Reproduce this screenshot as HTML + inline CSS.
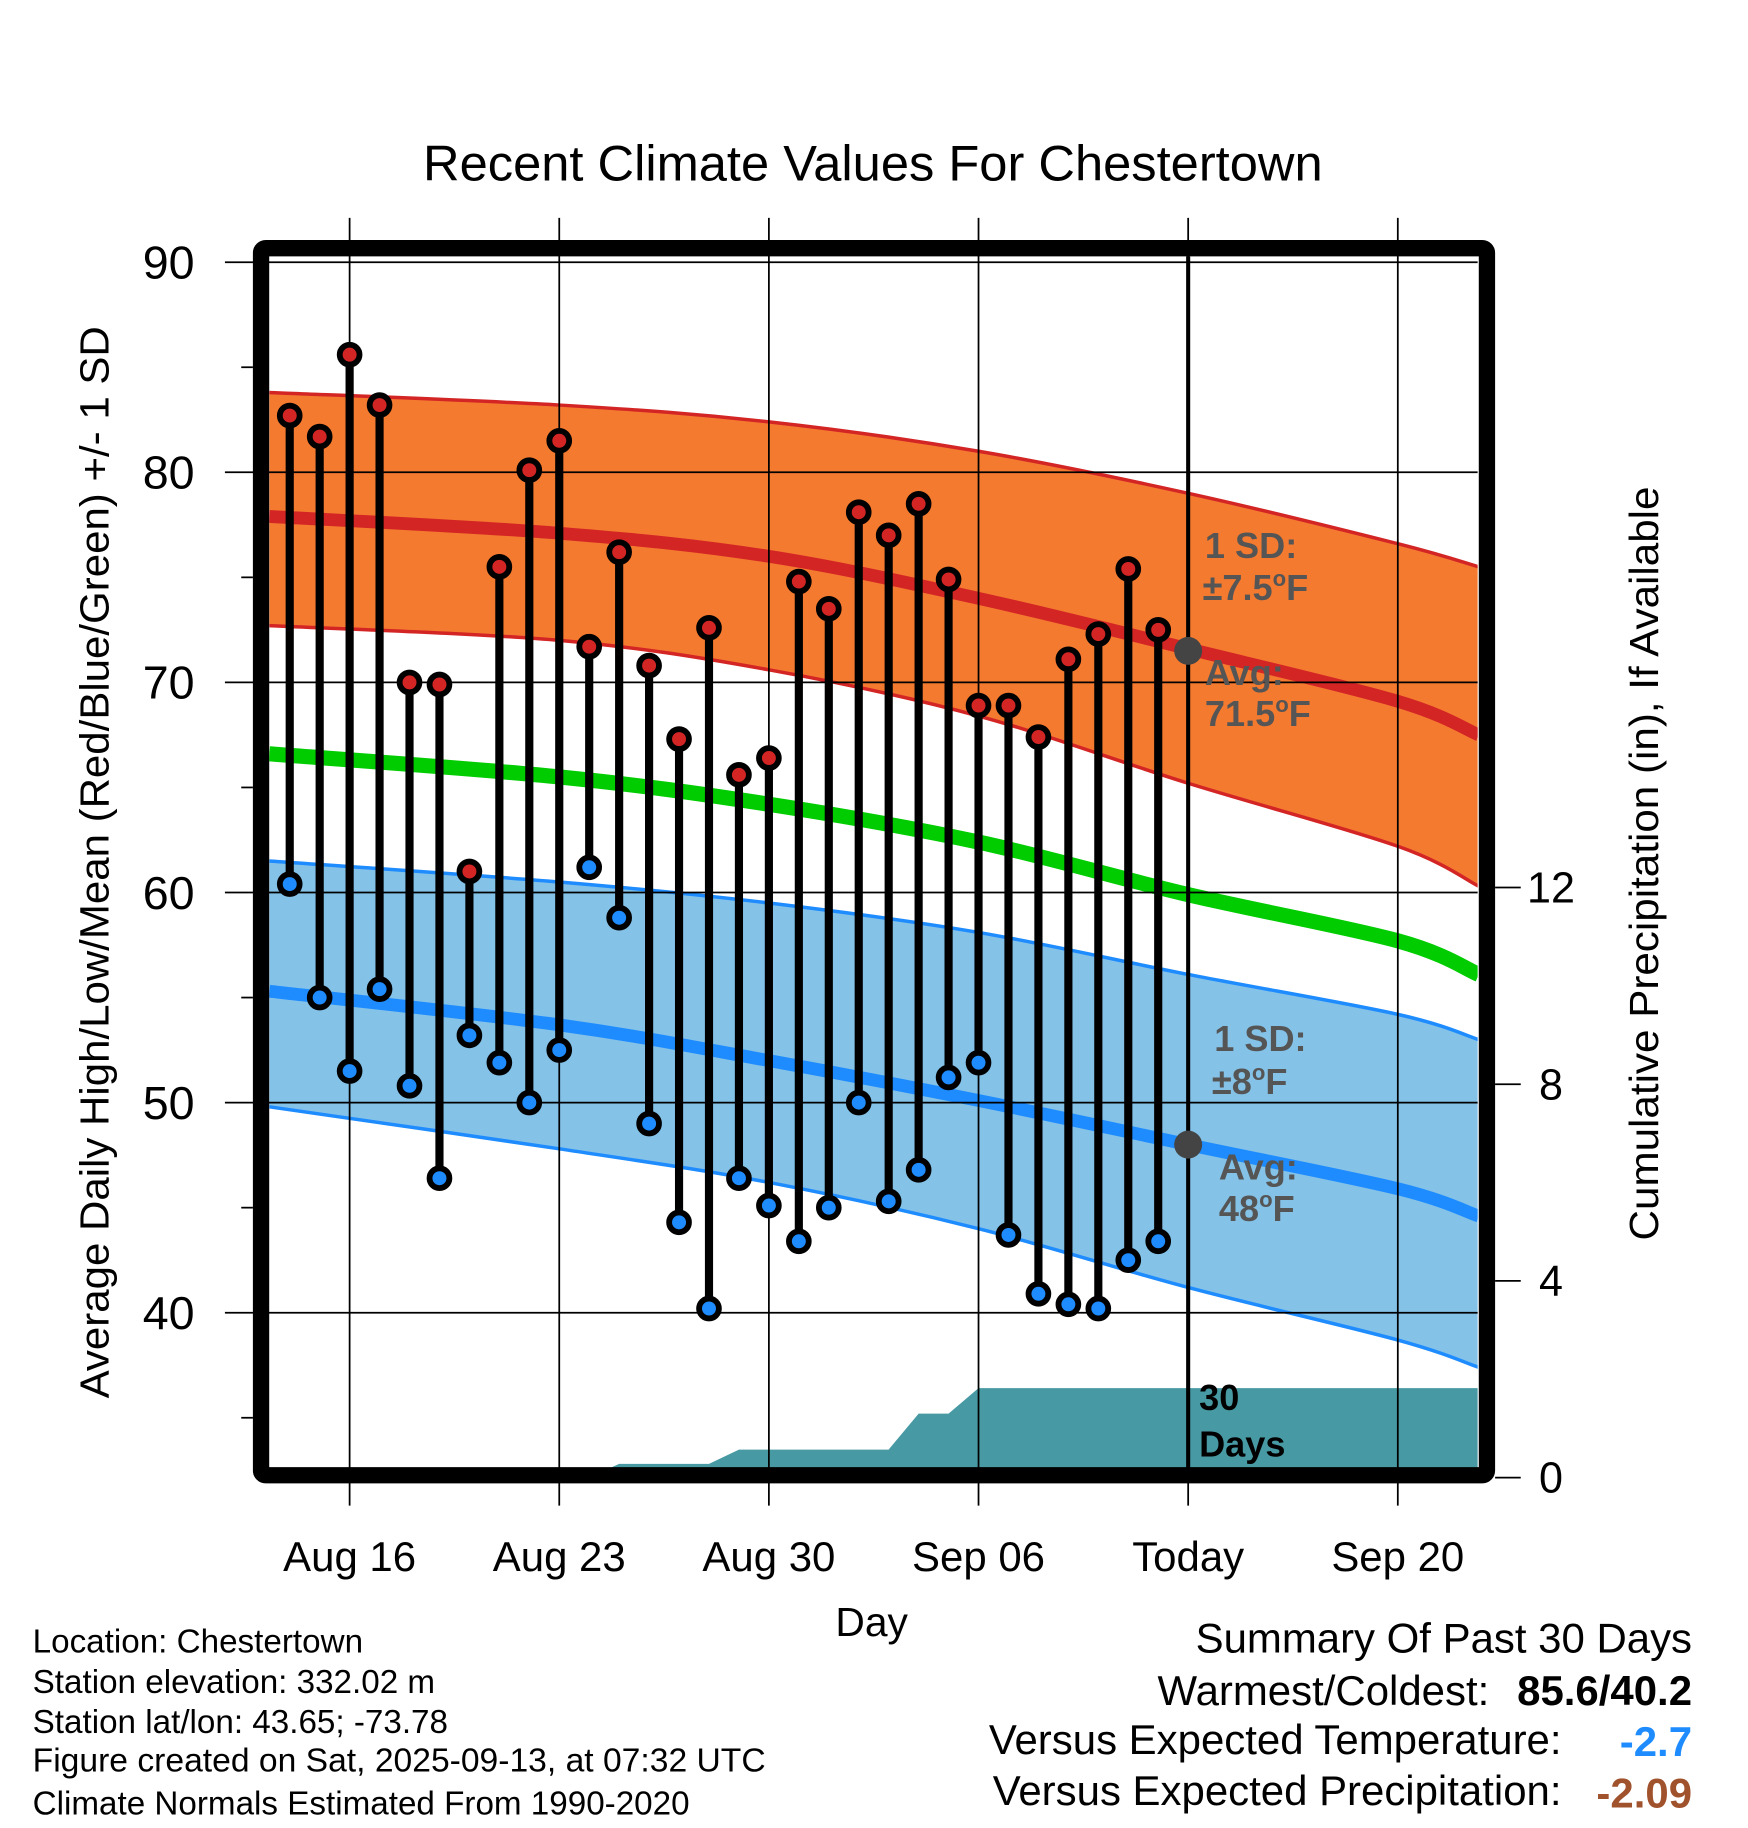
<!DOCTYPE html>
<html><head><meta charset="utf-8"><style>
html,body{margin:0;padding:0;background:#fff}
svg{display:block;font-family:"Liberation Sans",sans-serif}
</style></head><body>
<svg id="chart" width="1748" height="1828" viewBox="0 0 1500 1568.7" xmlns="http://www.w3.org/2000/svg">
</svg>
<script>
// ---- data ----
const days = [-2,-1,0,1,2,3,4,5,6,7,8,9,10,11,12,13,14,15,16,17,18,19,20,21,22,23,24,25,26,27];
const highs = [82.7,81.7,85.6,83.2,70.0,69.9,61.0,75.5,80.1,81.5,71.7,76.2,70.8,67.3,72.6,65.6,66.4,74.8,73.5,78.1,77.0,78.5,74.9,68.9,68.9,67.4,71.1,72.3,75.4,72.5];
const lows = [60.4,55.0,51.5,55.4,50.8,46.4,53.2,51.9,50.0,52.5,61.2,58.8,49.0,44.3,40.2,46.4,45.1,43.4,45.0,50.0,45.3,46.8,51.2,51.9,43.7,40.9,40.4,40.2,42.5,43.4];
const normDays = [-2.68,7,14,21,28,35,37.7];
const normHigh = [77.9,77.1,76.0,74.0,71.6,69.1,67.5];
const highUpper = [83.8,83.2,82.4,81.0,79.0,76.6,75.5];
const highLower = [72.7,72.0,70.6,68.4,65.2,62.2,60.3];
const normMean = [66.6,65.5,64.2,62.4,59.9,57.7,56.1];
const normLow = [55.3,53.7,52.0,50.1,48.0,45.9,44.6];
const lowUpper = [61.5,60.5,59.5,58.1,56.1,54.2,53.0];
const lowLower = [49.8,47.8,46.2,44.0,41.2,38.7,37.4];
const precipDays = [-2.68,8,9,12,13,18,19,20,21,37.7];
const precipCum = [0,0,0.28,0.28,0.57,0.57,1.3,1.3,1.82,1.82];
const xTickDays = [0,7,14,21,28,35];
const xTickLabels = ["Aug 16","Aug 23","Aug 30","Sep 06","Today","Sep 20"];
const yTicks = [90,80,70,60,50,40];
const pTicks = [0,4,8,12];

// ---- axes ----
const X = d => 300 + d*25.7;
const Y = v => 225 + (90-v)*18.03;
const P = p => 1268 - p*42.2;
const L=231,R=1268,T=220,B=1260;
const NS="http://www.w3.org/2000/svg";
const svg=document.getElementById('chart');
function mk(tag,attrs,parent){const e=document.createElementNS(NS,tag);for(const k in attrs)e.setAttribute(k,attrs[k]);(parent||svg).appendChild(e);return e;}
function txt(s,attrs){const e=mk('text',attrs);e.textContent=s;return e;}

// smooth path (catmull-rom) through points
function smooth(pts,start){
  let d=start?('M'+pts[0][0]+','+pts[0][1]):(' L'+pts[0][0]+','+pts[0][1]);
  for(let i=0;i<pts.length-1;i++){
    const p0=pts[Math.max(0,i-1)],p1=pts[i],p2=pts[i+1],p3=pts[Math.min(pts.length-1,i+2)];
    const c1=[p1[0]+(p2[0]-p0[0])/6,p1[1]+(p2[1]-p0[1])/6];
    const c2=[p2[0]-(p3[0]-p1[0])/6,p2[1]-(p3[1]-p1[1])/6];
    d+=' C'+c1[0]+','+c1[1]+' '+c2[0]+','+c2[1]+' '+p2[0]+','+p2[1];
  }
  return d;
}
function pts(arr){return normDays.map((t,i)=>[X(t),Y(arr[i])]);}

const defs=mk('defs',{});const cp=mk('clipPath',{id:'pc'},defs);mk('rect',{x:L,y:T,width:R-L,height:B-T},cp);
const g=mk('g',{'clip-path':'url(#pc)'});

function band(up,lo,fill,name){
  let d=smooth(pts(up),true)+smooth(pts(lo).reverse(),false)+'Z';
  const e=mk('path',{d:d,fill:fill},g);
  
  
}
function line(arr,color,w,name){
  const e=mk('path',{d:smooth(pts(arr),true),fill:'none',stroke:color,'stroke-width':w},g);
  
  
}
band(highUpper,highLower,'#f47a30','high-sd-band');
line(highUpper,'#d42525',3,'high-band-upper');
line(highLower,'#d42525',3,'high-band-lower');
line(normHigh,'#d42525',11,'normal-high-line');
band(lowUpper,lowLower,'#84c2e8','low-sd-band');
line(lowUpper,'#1e8cff',3,'low-band-upper');
line(lowLower,'#1e8cff',3,'low-band-lower');
line(normLow,'#1e8cff',11,'normal-low-line');
line(normMean,'#00cc00',13,'normal-mean-line');

let pd='M'+X(precipDays[0])+','+P(0)+' L'+precipDays.map((t,i)=>X(t)+','+P(precipCum[i])).join(' L')+' L'+X(precipDays[precipDays.length-1])+','+P(0)+'Z';
const pa=mk('path',{d:pd,fill:'#4799a3'},g);



yTicks.forEach(v=>{
  const l=mk('line',{x1:193,x2:R,y1:Y(v),y2:Y(v),stroke:'#000','stroke-width':1.5});
  
  
  const t=txt(String(v),{x:167,y:Y(v)+14,'font-size':40,'text-anchor':'end'});
  
  
});
[85,75,65,55,45,35].forEach(v=>{mk('line',{x1:207,x2:217,y1:Y(v),y2:Y(v),stroke:'#000','stroke-width':1.5});});
xTickDays.forEach((d,i)=>{
  const l=mk('line',{x1:X(d),x2:X(d),y1:187,y2:1292,stroke:'#000','stroke-width':1.5});
  
  
  const t=txt(xTickLabels[i],{x:X(d),y:1348,'font-size':36,'text-anchor':'middle'});
  
  
});
pTicks.forEach(p=>{
  mk('line',{x1:1283,x2:1305,y1:P(p),y2:P(p),stroke:'#000','stroke-width':1.5});
  const t=txt(String(p),{x:1331,y:P(p)+13,'font-size':37,'text-anchor':'middle'});
  
  
});

mk('line',{x1:X(28),x2:X(28),y1:T,y2:B,stroke:'#000','stroke-width':3.5});

days.forEach((d,i)=>{
  const s=mk('line',{x1:X(d),x2:X(d),y1:Y(highs[i]),y2:Y(lows[i]),stroke:'#000','stroke-width':7});
  
  
});
days.forEach((d,i)=>{
  const h=mk('circle',{cx:X(d),cy:Y(highs[i]),r:8.5,fill:'#d42525',stroke:'#000','stroke-width':5});
  
  
  const lo=mk('circle',{cx:X(d),cy:Y(lows[i]),r:8.5,fill:'#1e8cff',stroke:'#000','stroke-width':5});
  
  
});
mk('circle',{cx:X(28),cy:Y(71.5),r:12,fill:'#444'});
mk('circle',{cx:X(28),cy:Y(48),r:12,fill:'#444'});

const fr=mk('rect',{x:224,y:213,width:1052,height:1053,fill:'none',stroke:'#000','stroke-width':14,rx:4});


</script>
<script>
(function(){
const svg=document.getElementById('chart');
const html=`
<text x="749" y="155" font-size="43" text-anchor="middle" textLength="772" lengthAdjust="spacingAndGlyphs">Recent Climate Values For Chestertown</text>
<text x="748" y="1404" font-size="35" text-anchor="middle">Day</text>
<text transform="translate(93,740) rotate(-90)" font-size="35" text-anchor="middle" textLength="920" lengthAdjust="spacingAndGlyphs">Average Daily High/Low/Mean (Red/Blue/Green) +/- 1 SD</text>
<text transform="translate(1423,741) rotate(-90)" font-size="35" text-anchor="middle" textLength="647" lengthAdjust="spacingAndGlyphs">Cumulative Precipitation (in), If Available</text>
<g font-weight="bold" font-size="31" fill="#555">
<text x="1034" y="479">1 SD:</text>
<text x="1032" y="515">±7.5<tspan font-size="19" dy="-12">o</tspan><tspan dy="12">F</tspan></text>
<text x="1034" y="588">Avg:</text>
<text x="1034" y="623">71.5<tspan font-size="19" dy="-12">o</tspan><tspan dy="12">F</tspan></text>
<text x="1042" y="902">1 SD:</text>
<text x="1040" y="939">±8<tspan font-size="19" dy="-12">o</tspan><tspan dy="12">F</tspan></text>
<text x="1046" y="1012">Avg:</text>
<text x="1046" y="1048">48<tspan font-size="19" dy="-12">o</tspan><tspan dy="12">F</tspan></text>
</g>
<g font-weight="bold" font-size="31" fill="#000">
<text x="1029" y="1210">30</text>
<text x="1029" y="1250">Days</text>
</g>
<g font-size="28.5">
<text x="28" y="1418">Location: Chestertown</text>
<text x="28" y="1453">Station elevation: 332.02 m</text>
<text x="28" y="1487">Station lat/lon: 43.65; -73.78</text>
<text x="28" y="1520" textLength="629" lengthAdjust="spacingAndGlyphs">Figure created on Sat, 2025-09-13, at 07:32 UTC</text>
<text x="28" y="1557">Climate Normals Estimated From 1990-2020</text>
</g>
<g font-size="36">
<text x="1452" y="1418" text-anchor="end">Summary Of Past 30 Days</text>
<text x="1278" y="1463" text-anchor="end">Warmest/Coldest:</text>
<text x="1452" y="1463" text-anchor="end" font-weight="bold">85.6/40.2</text>
<text x="1340" y="1505" text-anchor="end">Versus Expected Temperature:</text>
<text x="1452" y="1507" text-anchor="end" font-weight="bold" fill="#1e8cff">-2.7</text>
<text x="1340" y="1549" text-anchor="end">Versus Expected Precipitation:</text>
<text x="1452" y="1551" text-anchor="end" font-weight="bold" fill="#a0522d">-2.09</text>
</g>`;
svg.insertAdjacentHTML('beforeend',html);
})();
</script>
</body></html>
